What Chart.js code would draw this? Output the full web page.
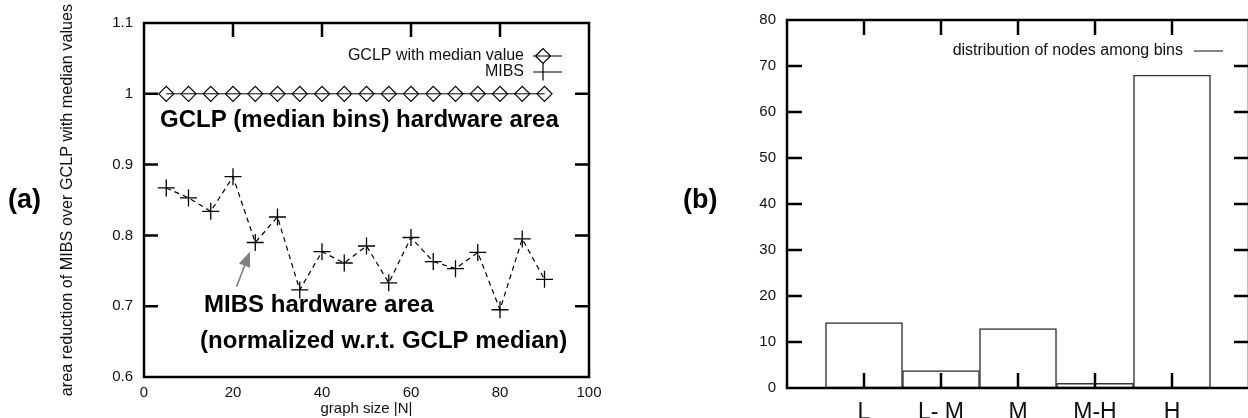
<!DOCTYPE html>
<html>
<head>
<meta charset="utf-8">
<script src="https://cdn.jsdelivr.net/npm/chart.js@4.4.0/dist/chart.umd.min.js"></script>
<style>
	html, body { margin: 0; padding: 0; background: #fff; width: 1248px; height: 418px; overflow: hidden; }
	.panel { position: absolute; top: 0; height: 418px; }
	#wa { left: 0; width: 620px; }
	#wb { left: 700px; width: 550px; }
	.tag { position: absolute; font: bold 27px "Liberation Sans", Arial, sans-serif; color: #000; line-height: 30px; }
</style>
</head>
<body>
<div id="wa" class="panel"><canvas id="ca"></canvas></div>
<div id="wb" class="panel"><canvas id="cb"></canvas></div>
<div class="tag" style="left:8px;top:184px">(a)</div>
<div class="tag" style="left:683px;top:184px">(b)</div>
<script>
	'use strict';

	// (a) area reduction vs graph size
	var graphSize = [5, 10, 15, 20, 25, 30, 35, 40, 45, 50, 55, 60, 65, 70, 75, 80, 85, 90];
	var gclpMedian = [1, 1, 1, 1, 1, 1, 1, 1, 1, 1, 1, 1, 1, 1, 1, 1, 1, 1];
	var mibs = [0.867, 0.853, 0.834, 0.883, 0.790, 0.826, 0.723, 0.777, 0.761, 0.785, 0.733, 0.797, 0.763, 0.753, 0.776, 0.695, 0.795, 0.738];
	var xTicksA = [0, 20, 40, 60, 80, 100];
	var yTicksA = [0.6, 0.7, 0.8, 0.9, 1, 1.1];

	// (b) distribution of nodes among bins
	var bins = ['L', 'L- M', 'M', 'M-H', 'H'];
	var nodeCounts = [14.2, 3.8, 12.9, 1, 68];
	var yTicksB = [0, 10, 20, 30, 40, 50, 60, 70, 80];

	var FONT = '"Liberation Sans", Arial, sans-serif';
	var INK = '#111';

	function points( xs, ys ){
		return xs.map(function( x, i ){ return { x: x, y: ys[i] }; });
	}
	function fixTicks( list ){
		return function( s ){ s.ticks = list.map(function( v ){ return { value: v }; }); };
	}

	// gnuplot style frame with ticks pointing inwards
	var innerTicks = {
		id: 'innerTicks',
		afterDatasetsDraw: function( chart, args, o ){
			var a = chart.chartArea, ctx = chart.ctx;
			var xs = chart.scales.x, ys = chart.scales.y;
			var len = o.len || 14;
			ctx.save();
			ctx.strokeStyle = '#000';
			ctx.lineWidth = 2.5;
			ctx.beginPath();
			(o.yTicks || []).forEach(function( v ){
				var p = ys.getPixelForValue(v);
				ctx.moveTo(a.left, p); ctx.lineTo(a.left + len, p);
				ctx.moveTo(a.right, p); ctx.lineTo(a.right - len, p);
			});
			(o.xTop || []).forEach(function( v ){
				var p = xs.getPixelForValue(v);
				ctx.moveTo(p, a.top); ctx.lineTo(p, a.top + len);
			});
			(o.xBottom || []).forEach(function( v ){
				var p = xs.getPixelForValue(v);
				ctx.moveTo(p, a.bottom); ctx.lineTo(p, a.bottom - len);
			});
			ctx.stroke();
			ctx.strokeRect(a.left, a.top, a.right - a.left, a.bottom - a.top);
			ctx.restore();
		}
	};

	// free text, arrow and right-hand legend of panel (a)
	var notesA = {
		id: 'notesA',
		afterDraw: function( chart ){
			var ctx = chart.ctx, xs = chart.scales.x, ys = chart.scales.y;
			function px( x ){ return xs.getPixelForValue(x); }
			function py( y ){ return ys.getPixelForValue(y); }
			ctx.save();
			ctx.fillStyle = '#000';
			ctx.textBaseline = 'middle';
			ctx.textAlign = 'left';
			ctx.font = 'bold 24px ' + FONT;
			ctx.fillText('GCLP (median bins) hardware area', px(3.6), py(0.963));
			ctx.fillText('MIBS hardware area', px(13.5), py(0.7017));
			ctx.fillText('(normalized w.r.t. GCLP median)', px(12.6), py(0.651));

			// grey arrow
			var x0 = px(20.8), y0 = py(0.7275), x1 = px(23.8), y1 = py(0.777);
			var ang = Math.atan2(y1 - y0, x1 - x0);
			ctx.strokeStyle = '#808080';
			ctx.fillStyle = '#808080';
			ctx.lineWidth = 1.6;
			ctx.beginPath();
			ctx.moveTo(x0, y0);
			ctx.lineTo(x1 - 10 * Math.cos(ang), y1 - 10 * Math.sin(ang));
			ctx.stroke();
			ctx.beginPath();
			ctx.moveTo(x1, y1);
			ctx.lineTo(x1 - 15 * Math.cos(ang) + 6 * Math.sin(ang), y1 - 15 * Math.sin(ang) - 6 * Math.cos(ang));
			ctx.lineTo(x1 - 15 * Math.cos(ang) - 6 * Math.sin(ang), y1 - 15 * Math.sin(ang) + 6 * Math.cos(ang));
			ctx.closePath();
			ctx.fill();

			// legend: text on the left, sample on the right
			var ds = chart.data.datasets;
			ctx.font = '16px ' + FONT;
			ctx.fillStyle = INK;
			ctx.textAlign = 'right';
			ctx.strokeStyle = '#000';
			ctx.lineWidth = 1.2;
			var rows = [56, 72];
			ds.forEach(function( d, i ){
				var y = rows[i];
				ctx.fillText(d.label, 524, y);
				ctx.beginPath();
				ctx.moveTo(533, y); ctx.lineTo(562, y);
				var r = d.pointRadius;
				if (d.pointStyle === 'rectRot') {
					ctx.moveTo(543 - r, y); ctx.lineTo(543, y - r); ctx.lineTo(543 + r, y); ctx.lineTo(543, y + r); ctx.closePath();
				} else {
					ctx.moveTo(543, y - r); ctx.lineTo(543, y + r);
				}
				ctx.stroke();
			});
			ctx.restore();
		}
	};

	var legendB = {
		id: 'legendB',
		afterDraw: function( chart ){
			var ctx = chart.ctx;
			ctx.save();
			ctx.font = '16px ' + FONT;
			ctx.fillStyle = INK;
			ctx.textAlign = 'right';
			ctx.textBaseline = 'middle';
			ctx.fillText(chart.data.datasets[0].label, 483, 51);
			ctx.strokeStyle = '#333';
			ctx.lineWidth = 1.2;
			ctx.beginPath();
			ctx.moveTo(494, 51); ctx.lineTo(523, 51);
			ctx.stroke();
			ctx.restore();
		}
	};

	var tickFont = { family: FONT, size: 15 };

	new Chart(document.getElementById('ca'), {
		type: 'line',
		data: {
			datasets: [{
				label: 'GCLP with median value',
				data: points(graphSize, gclpMedian),
				borderColor: '#000',
				borderWidth: 1,
				pointStyle: 'rectRot',
				pointRadius: 7.5,
				pointBorderWidth: 1.2,
				pointBorderColor: '#000',
				pointBackgroundColor: 'rgba(0,0,0,0)',
				fill: false,
				tension: 0
			}, {
				label: 'MIBS',
				data: points(graphSize, mibs),
				borderColor: '#000',
				borderWidth: 1.2,
				borderDash: [5, 4],
				pointStyle: 'cross',
				pointRadius: 8.5,
				pointBorderWidth: 1.3,
				pointBorderColor: '#000',
				fill: false,
				tension: 0
			}]
		},
		options: {
			responsive: true,
			maintainAspectRatio: false,
			animation: false,
			layout: { padding: { left: 0, right: 31, top: 23, bottom: 0 } },
			plugins: {
				legend: { display: false },
				tooltip: { enabled: false },
				innerTicks: { yTicks: [0.7, 0.8, 0.9, 1], xTop: [20, 40, 60, 80], len: 14 }
			},
			scales: {
				x: {
					type: 'linear', min: 0, max: 100,
					afterBuildTicks: fixTicks(xTicksA),
					afterFit: function( s ){ s.height = 41; },
					grid: { display: false, drawTicks: false },
					border: { display: false },
					ticks: { font: tickFont, color: INK, padding: 7, maxRotation: 0 },
					title: { display: true, text: 'graph size |N|', font: { family: FONT, size: 15 }, color: INK, padding: { top: 0, bottom: 0 } }
				},
				y: {
					min: 0.6, max: 1.1,
					afterBuildTicks: fixTicks(yTicksA),
					afterFit: function( s ){ s.width = 144; },
					grid: { display: false, drawTicks: false },
					border: { display: false },
					ticks: { font: tickFont, color: INK, padding: 11, callback: function( v ){ return String(Math.round(v * 10) / 10); } },
					title: { display: true, text: 'area reduction of MIBS over GCLP with median values', font: { family: FONT, size: 16.2 }, color: INK, padding: { top: 58, bottom: 0 } }
				}
			}
		},
		plugins: [innerTicks, notesA]
	});

	new Chart(document.getElementById('cb'), {
		type: 'bar',
		data: {
			labels: [''].concat(bins, ['']),
			datasets: [{
				label: 'distribution of nodes among bins',
				data: [null].concat(nodeCounts, [null]),
				backgroundColor: '#fff',
				borderColor: '#333',
				borderWidth: 1.5,
				borderSkipped: false,
				barPercentage: 1,
				categoryPercentage: 1
			}]
		},
		options: {
			responsive: true,
			maintainAspectRatio: false,
			animation: false,
			layout: { padding: { left: 0, right: 1, top: 18, bottom: 0 } },
			plugins: {
				legend: { display: false },
				tooltip: { enabled: false },
				innerTicks: { yTicks: [10, 20, 30, 40, 50, 60, 70], xTop: [1, 2, 3, 4, 5], xBottom: [1, 2, 3, 4, 5], len: 15 }
			},
			scales: {
				x: {
					offset: false,
					afterFit: function( s ){ s.height = 30; s.paddingLeft = 0; s.paddingRight = 0; },
					grid: { display: false, drawTicks: false },
					border: { display: false },
					ticks: { font: { family: FONT, size: 23 }, color: INK, padding: 11, maxRotation: 0, autoSkip: false }
				},
				y: {
					min: 0, max: 80,
					afterBuildTicks: fixTicks(yTicksB),
					afterFit: function( s ){ s.width = 87; },
					grid: { display: false, drawTicks: false },
					border: { display: false },
					ticks: { font: tickFont, color: INK, padding: 11 }
				}
			}
		},
		plugins: [innerTicks, legendB]
	});
</script>
</body>
</html>
